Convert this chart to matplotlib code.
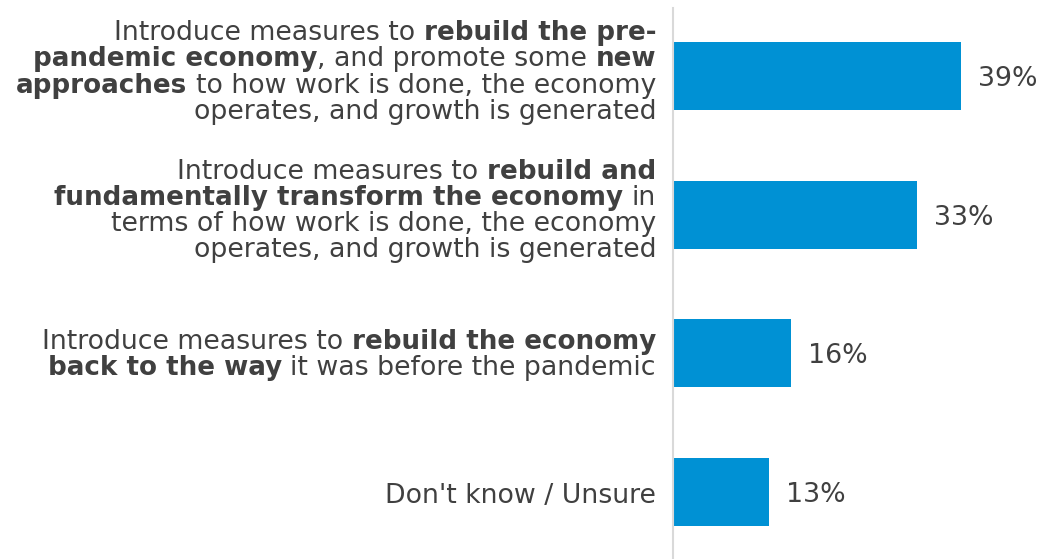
import matplotlib
matplotlib.use('Agg')
import matplotlib.pyplot as plt
from matplotlib.transforms import IdentityTransform

plt.rcParams['font.family'] = ['DejaVu Sans']

# ---- data ----
values = [39, 33, 16, 13]
value_labels = ["39%", "33%", "16%", "13%"]
label_lines = [
    [[("Introduce measures to ", False), ("rebuild the pre-", True)],
     [("pandemic economy", True), (", and promote some ", False), ("new", True)],
     [("approaches", True), (" to how work is done, the economy", False)],
     [("operates, and growth is generated", False)]],
    [[("Introduce measures to ", False), ("rebuild and", True)],
     [("fundamentally transform the economy", True), (" in", False)],
     [("terms of how work is done, the economy", False)],
     [("operates, and growth is generated", False)]],
    [[("Introduce measures to ", False), ("rebuild the economy", True)],
     [("back to the way", True), (" it was before the pandemic", False)]],
    [[("Don't know / Unsure", False)]],
]

TEXT = '#404040'
BAR = '#0091D4'
FS = 19.3
FSB = 18.8
LS = 26.1  # line spacing in px

W, H = 1043, 559
fig = plt.figure(figsize=(W / 100, H / 100), dpi=100)
ax = fig.add_axes([673 / W, 0, 369 / W, (559 - 8) / H])
pos = list(range(len(values)))
ax.barh(pos, values, height=0.49, color=BAR)
ax.set_xlim(0, 50)
ax.set_ylim(3.483, -0.49)
for s in ['top', 'right', 'bottom']:
    ax.spines[s].set_visible(False)
ax.spines['left'].set_color('#D9D9D9')
ax.spines['left'].set_linewidth(1.5)
ax.set_xticks([])
ax.set_yticks([])

for i, (v, lab) in enumerate(zip(values, value_labels)):
    ax.annotate(lab, (v, i), xytext=(17, -10), textcoords='offset pixels',
                va='baseline', ha='left', fontsize=FS, color=TEXT)

fig.canvas.draw()
renderer = fig.canvas.get_renderer()


def text_width(s, bold):
    t = fig.text(0, 0, s, fontsize=FSB if bold else FS, fontweight='bold' if bold else 'normal')
    w = t.get_window_extent(renderer).width
    t.remove()
    return w


space_w = {b: text_width("a a", b) - text_width("aa", b) for b in (False, True)}
right_x = ax.transAxes.transform((0, 0))[0] - 17

for i, lines in enumerate(label_lines):
    cy = ax.transData.transform((0, i))[1]
    n = len(lines)
    shift = 13.1 - 2.4 * n  # mean baseline below bar centre, px
    for j, segs in enumerate(lines):
        base = cy + ((n - 1) / 2 - j) * LS - shift
        x = right_x
        for s, b in reversed(segs):
            if s.endswith(' '):
                x -= space_w[b]
            st = s.strip()
            fig.text(x, base, st, transform=IdentityTransform(), ha='right', va='baseline',
                     fontsize=FSB if b else FS, fontweight='bold' if b else 'normal', color=TEXT)
            x -= text_width(st, b)
            if s.startswith(' '):
                x -= space_w[b]

fig.savefig('out.png', dpi=100)
